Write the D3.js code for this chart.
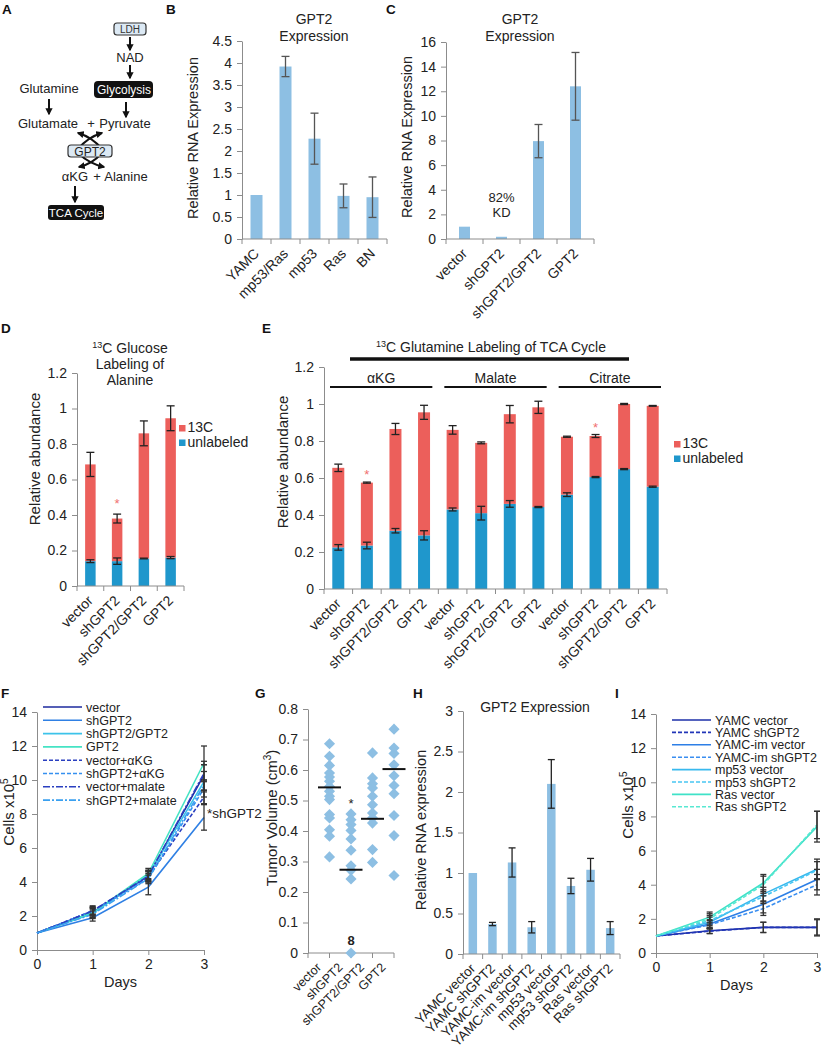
<!DOCTYPE html>
<html>
<head>
<meta charset="utf-8">
<script src="https://cdn.jsdelivr.net/npm/d3@7"></script>
<style>
  body { margin: 0; background: #fff; }
</style>
</head>
<body>
<div id="fig"></div>
<script>
// ---------- data ----------
const bCats = ['YAMC', 'mp53/Ras', 'mp53', 'Ras', 'BN'];
const bVals = [1, 3.92, 2.28, 0.98, 0.95];
const bErr = [0, 0.23, 0.58, 0.27, 0.46];
const bTicks = [0, 0.5, 1, 1.5, 2, 2.5, 3, 3.5, 4, 4.5];

const cCats = ['vector', 'shGPT2', 'shGPT2/GPT2', 'GPT2'];
const cVals = [1, 0.18, 7.95, 12.4];
const cErr = [0, 0, 1.35, 2.75];
const cTicks = [0, 2, 4, 6, 8, 10, 12, 14, 16];

const dCats = ['vector', 'shGPT2', 'shGPT2/GPT2', 'GPT2'];
const dUnlabeled = [0.14, 0.14, 0.155, 0.16];
const dC13 = [0.545, 0.24, 0.705, 0.785];
const dErrUnlabeled = [0.008, 0.018, 0.002, 0.006];
const dErrTotal = [0.068, 0.025, 0.07, 0.07];
const abundTicks = [0, 0.2, 0.4, 0.6, 0.8, 1, 1.2];

const eGroups = ['αKG', 'Malate', 'Citrate'];
const eCats = ['vector', 'shGPT2', 'shGPT2/GPT2', 'GPT2',
               'vector', 'shGPT2', 'shGPT2/GPT2', 'GPT2',
               'vector', 'shGPT2', 'shGPT2/GPT2', 'GPT2'];
const eUnlabeled = [0.225, 0.235, 0.315, 0.29, 0.43, 0.41, 0.46, 0.443, 0.51, 0.605, 0.648, 0.553];
const eC13 = [0.43, 0.34, 0.55, 0.665, 0.43, 0.38, 0.485, 0.539, 0.313, 0.222, 0.352, 0.437];
const eErrUnlabeled = [0.015, 0.018, 0.012, 0.025, 0.008, 0.037, 0.018, 0.003, 0.01, 0.003, 0.003, 0.003];
const eErrTotal = [0.02, 0.003, 0.03, 0.038, 0.023, 0.005, 0.047, 0.033, 0.003, 0.008, 0.003, 0.002];

const days = [0, 1, 2, 3];
const cellTicks = [0, 2, 4, 6, 8, 10, 12, 14];
const fNames = ['vector', 'shGPT2', 'shGPT2/GPT2', 'GPT2', 'vector+αKG', 'shGPT2+αKG', 'vector+malate', 'shGPT2+malate'];
const fValues = [
  [1, 2.2, 4.35, 10.3],
  [1, 1.9, 3.7, 7.8],
  [1, 2.15, 4.4, 9.9],
  [1, 2.2, 4.5, 11.0],
  [1, 2.3, 4.3, 9.0],
  [1, 2.3, 4.2, 9.5],
  [1, 2.3, 4.35, 10.4],
  [1, 2.1, 4.2, 9.7]
];
const fErr = [
  [0, 0.3, 0.3, 1.7],
  [0, 0.2, 0.45, 0.75],
  [0, 0.3, 0.3, 0.6],
  [0, 0.2, 0.3, 0.1],
  [0, 0.25, 0.3, 0.4],
  [0, 0.3, 0.3, 0.5],
  [0, 0.2, 0.3, 0.5],
  [0, 0.2, 0.2, 0.3]
];

const gCats = ['vector', 'shGPT2', 'shGPT2/GPT2', 'GPT2'];
const gVector = [0.686, 0.645, 0.615, 0.59, 0.577, 0.563, 0.546, 0.53, 0.514, 0.503, 0.454, 0.443, 0.404, 0.383, 0.315];
const gShGPT2 = [0.456, 0.437, 0.421, 0.402, 0.374, 0.337, 0.286, 0.271, 0.243, 0];
const gRescue = [0.656, 0.574, 0.555, 0.541, 0.514, 0.486, 0.459, 0.443, 0.426, 0.339, 0.297];
const gGPT2 = [0.734, 0.672, 0.654, 0.617, 0.581, 0.549, 0.522, 0.451, 0.385, 0.254];
const gMeans = [0.543, 0.273, 0.44, 0.603];
const gTicks = [0, 0.1, 0.2, 0.3, 0.4, 0.5, 0.6, 0.7, 0.8];

const hCats = ['YAMC vector', 'YAMC shGPT2', 'YAMC-im vector', 'YAMC-im shGPT2', 'mp53 vector', 'mp53 shGPT2', 'Ras vector', 'Ras shGPT2'];
const hVals = [1, 0.37, 1.13, 0.33, 2.1, 0.84, 1.04, 0.32];
const hErr = [0, 0.02, 0.18, 0.07, 0.3, 0.095, 0.14, 0.08];
const hTicks = [0, 0.5, 1, 1.5, 2, 2.5, 3];

const iNames = ['YAMC vector', 'YAMC shGPT2', 'YAMC-im vector', 'YAMC-im shGPT2', 'mp53 vector', 'mp53 shGPT2', 'Ras vector', 'Ras shGPT2'];
const iValues = [
  [1, 1.3, 1.5, 1.5],
  [1, 1.28, 1.5, 1.5],
  [1, 1.7, 2.85, 4.3],
  [1, 1.65, 2.6, 4.0],
  [1, 1.8, 3.45, 4.9],
  [1, 1.9, 3.3, 4.85],
  [1, 2.1, 4.1, 7.4],
  [1, 2.0, 4.0, 7.5]
];
const iErr = [
  [0, 0.15, 0.3, 0.5],
  [0, 0.15, 0.3, 0.45],
  [0, 0.25, 0.5, 0.6],
  [0, 0.25, 0.4, 0.6],
  [0, 0.3, 0.4, 0.6],
  [0, 0.3, 0.4, 0.5],
  [0, 0.3, 0.5, 0.9],
  [0, 0.3, 0.5, 0.8]
];

// ---------- styles ----------
const FONT = '"Liberation Sans", Arial, Helvetica, sans-serif';
const INK = '#222';
const AXIS = '#8c8c8c';
const BAR = '#8dbfe3';
const RED = '#ec5f5b';
const BLUE = '#1f97cc';
const STAR = '#f07070';

const fStyle = [
  { c: '#1c2a9e', dash: null },
  { c: '#2f80e4', dash: null },
  { c: '#3cc3ea', dash: null },
  { c: '#45e3c4', dash: null },
  { c: '#2a3fc0', dash: '4,2' },
  { c: '#3590f0', dash: '4,2' },
  { c: '#2a3fc0', dash: '7,2,2,2' },
  { c: '#3aa0f0', dash: '7,2,2,2' }
];
const iStyle = [
  { c: '#1c2fa8', dash: null },
  { c: '#2236b8', dash: '4,2' },
  { c: '#2d7fe6', dash: null },
  { c: '#3a8ef0', dash: '4,2' },
  { c: '#38b9ee', dash: null },
  { c: '#48c6f2', dash: '4,2' },
  { c: '#3fe2c8', dash: null },
  { c: '#58e8d2', dash: '4,2' }
];

const svg = d3.select('#fig').append('svg')
  .attr('width', 822).attr('height', 1050)
  .style('font-family', FONT)
  .style('background', '#fff');

svg.append('defs').append('marker')
  .attr('id', 'arr').attr('viewBox', '0 0 10 10')
  .attr('refX', 8).attr('refY', 5)
  .attr('markerWidth', 3.6).attr('markerHeight', 3.6)
  .attr('orient', 'auto')
  .append('path').attr('d', 'M0,0L10,5L0,10z').attr('fill', '#111');

function txt(g, x, y, s, o = {}) {
  return g.append('text').attr('x', x).attr('y', y).text(s)
    .attr('font-size', o.size || 14)
    .attr('fill', o.fill || INK)
    .attr('text-anchor', o.anchor || 'start')
    .attr('font-weight', o.weight || 'normal');
}

function leftAxis(g, y, ticks, x0, fs = 14) {
  const ax = g.append('g').attr('transform', `translate(${x0},0)`)
    .call(d3.axisLeft(y).tickValues(ticks).tickSize(5).tickSizeOuter(0).tickPadding(5).tickFormat(d3.format('')));
  ax.select('.domain').attr('stroke', AXIS);
  ax.selectAll('.tick line').attr('stroke', AXIS);
  ax.selectAll('text').attr('fill', INK).attr('font-size', fs).attr('font-family', FONT);
  return ax;
}

function catAxis(g, x, y0) {
  const r = x.range();
  g.append('line').attr('x1', r[0]).attr('x2', r[1]).attr('y1', y0).attr('y2', y0).attr('stroke', AXIS);
  const edges = x.domain().map(d => x(d)).concat([r[1]]);
  g.selectAll(null).data(edges).enter().append('line')
    .attr('x1', d => d).attr('x2', d => d)
    .attr('y1', y0).attr('y2', y0 + 5).attr('stroke', AXIS);
}

function rotLabels(g, x, labels, y0, fs = 14) {
  g.selectAll(null).data(labels).enter().append('text')
    .attr('transform', (d, i) => `translate(${x(i) + x.bandwidth() / 2},${y0 + 12}) rotate(-45)`)
    .attr('text-anchor', 'end').attr('dy', '0.35em')
    .attr('font-size', fs).attr('fill', INK)
    .text(d => d);
}

function yLabel(g, xb, cy, s, fs = 15) {
  return g.append('text')
    .attr('transform', `translate(${xb},${cy}) rotate(-90)`)
    .attr('text-anchor', 'middle').attr('font-size', fs).attr('fill', INK)
    .text(s);
}

function errBars(g, items, y, cap, color = '#222') {
  items.filter(d => d.e > 0).forEach(d => {
    const top = y(d.v + d.e), bot = y(d.v - d.e);
    g.append('line').attr('x1', d.cx).attr('x2', d.cx).attr('y1', top).attr('y2', bot)
      .attr('stroke', color).attr('stroke-width', 1.3);
    [top, bot].forEach(yy => g.append('line')
      .attr('x1', d.cx - cap / 2).attr('x2', d.cx + cap / 2).attr('y1', yy).attr('y2', yy)
      .attr('stroke', color).attr('stroke-width', 1.3));
  });
}

// ---------- panel labels ----------
[['A', 2, 14], ['B', 166, 14], ['C', 386, 14], ['D', 1, 333], ['E', 262, 333],
 ['F', 1, 698], ['G', 255, 698], ['H', 413, 698], ['I', 615, 698]]
  .forEach(([s, x, y]) => txt(svg, x, y, s, { size: 13.5, weight: 'bold', fill: '#111' }));

// ---------- A: pathway diagram ----------
(function () {
  const g = svg.append('g');
  const arrow = (x1, y1, x2, y2) => g.append('line')
    .attr('x1', x1).attr('y1', y1).attr('x2', x2).attr('y2', y2)
    .attr('stroke', '#111').attr('stroke-width', 2).attr('marker-end', 'url(#arr)');
  const curve = (d) => g.append('path').attr('d', d).attr('fill', 'none')
    .attr('stroke', '#111').attr('stroke-width', 2).attr('marker-end', 'url(#arr)');

  g.append('rect').attr('x', 114).attr('y', 23).attr('width', 32).attr('height', 12).attr('rx', 3)
    .attr('fill', '#dce9f4').attr('stroke', '#333').attr('stroke-width', 1.2);
  txt(g, 130, 33, 'LDH', { size: 10, anchor: 'middle', fill: '#333' });
  arrow(130, 37, 130, 50);
  txt(g, 130, 62, 'NAD', { size: 13, anchor: 'middle' });
  arrow(130, 65, 130, 78);
  g.append('rect').attr('x', 94).attr('y', 81).attr('width', 59).attr('height', 17).attr('rx', 4).attr('fill', '#111');
  txt(g, 124, 94, 'Glycolysis', { size: 12, anchor: 'middle', fill: '#fff' });
  txt(g, 49, 93, 'Glutamine', { size: 13, anchor: 'middle' });
  arrow(49, 99, 49, 114);
  arrow(126, 102, 126, 117);
  txt(g, 48, 128, 'Glutamate', { size: 13, anchor: 'middle' });
  txt(g, 91, 128, '+', { size: 13, anchor: 'middle' });
  txt(g, 125, 128, 'Pyruvate', { size: 13, anchor: 'middle' });

  curve('M102,149 Q92,137 78,133');
  curve('M78,149 Q88,137 102,133');
  curve('M101,154 Q92,164 79,167');
  curve('M79,154 Q90,164 104,167');
  g.append('rect').attr('x', 68).attr('y', 145).attr('width', 44).attr('height', 12).attr('rx', 3)
    .attr('fill', '#dce9f4').attr('stroke', '#333').attr('stroke-width', 1.2);
  txt(g, 90, 155.5, 'GPT2', { size: 12, anchor: 'middle' });

  txt(g, 75, 181, 'αKG', { size: 13, anchor: 'middle' });
  txt(g, 97, 181, '+', { size: 13, anchor: 'middle' });
  txt(g, 126, 181, 'Alanine', { size: 13, anchor: 'middle' });
  arrow(75, 186, 75, 202);
  g.append('rect').attr('x', 48).attr('y', 205).attr('width', 56).attr('height', 15).attr('rx', 3).attr('fill', '#111');
  txt(g, 76, 217, 'TCA Cycle', { size: 11.5, anchor: 'middle', fill: '#fff' });
})();

// ---------- simple bar panels (B, C, H) ----------
function barPanel(o) {
  const g = svg.append('g');
  const x = d3.scaleBand().domain(d3.range(o.cats.length)).range([o.x0, o.x1]);
  const y = d3.scaleLinear().domain([0, o.ymax]).range([o.y0, o.yTop]);
  g.selectAll(null).data(o.vals).enter().append('rect')
    .attr('x', (d, i) => x(i) + x.bandwidth() / 2 - o.bw / 2).attr('width', o.bw)
    .attr('y', d => y(d)).attr('height', d => o.y0 - y(d)).attr('fill', BAR);
  leftAxis(g, y, o.ticks, o.x0);
  catAxis(g, x, o.y0);
  errBars(g, o.vals.map((v, i) => ({ cx: x(i) + x.bandwidth() / 2, v, e: o.err[i] })), y, o.cap, o.errColor);
  rotLabels(g, x, o.cats, o.y0, o.fs || 14);
  return { g, x, y };
}

const B = barPanel({ cats: bCats, vals: bVals, err: bErr, ticks: bTicks, ymax: 4.5,
  x0: 242, x1: 387, y0: 239, yTop: 41, bw: 12, cap: 8, errColor: '#555' });
txt(B.g, 314, 24, 'GPT2', { anchor: 'middle' });
txt(B.g, 314, 41, 'Expression', { anchor: 'middle' });
yLabel(B.g, 198, 138, 'Relative RNA Expression', 14.5);

const C = barPanel({ cats: cCats, vals: cVals, err: cErr, ticks: cTicks, ymax: 16,
  x0: 446, x1: 594, y0: 239, yTop: 42, bw: 11, cap: 8, errColor: '#555' });
txt(C.g, 520, 24, 'GPT2', { anchor: 'middle' });
txt(C.g, 520, 41, 'Expression', { anchor: 'middle' });
yLabel(C.g, 412, 137, 'Relative RNA Expression', 14.5);
txt(C.g, C.x(1) + C.x.bandwidth() / 2, 202, '82%', { size: 13, anchor: 'middle' });
txt(C.g, C.x(1) + C.x.bandwidth() / 2, 217, 'KD', { size: 13, anchor: 'middle' });

const H = barPanel({ cats: hCats, vals: hVals, err: hErr, ticks: hTicks, ymax: 3,
  x0: 463, x1: 620, y0: 954, yTop: 711, bw: 8.5, cap: 7, fs: 13.5 });
txt(H.g, 535, 712, 'GPT2 Expression', { anchor: 'middle' });
yLabel(H.g, 426, 830, 'Relative RNA expression', 14.5);

// ---------- stacked panels (D, E) ----------
function stackPanel(o) {
  const g = svg.append('g');
  const n = o.cats.length;
  const x = d3.scaleBand().domain(d3.range(n)).range([o.x0, o.x1]);
  const y = d3.scaleLinear().domain([0, 1.2]).range([o.y0, o.yTop]);
  const cx = i => x(i) + x.bandwidth() / 2;
  g.selectAll(null).data(o.unl).enter().append('rect')
    .attr('x', (d, i) => cx(i) - o.bw / 2).attr('width', o.bw)
    .attr('y', d => y(d)).attr('height', d => o.y0 - y(d)).attr('fill', BLUE);
  g.selectAll(null).data(o.c13).enter().append('rect')
    .attr('x', (d, i) => cx(i) - o.bw / 2).attr('width', o.bw)
    .attr('y', (d, i) => y(d + o.unl[i])).attr('height', d => o.y0 - y(d)).attr('fill', RED);
  leftAxis(g, y, abundTicks, o.x0);
  catAxis(g, x, o.y0);
  errBars(g, o.unl.map((v, i) => ({ cx: cx(i), v, e: o.errUnl[i] })), y, 8);
  errBars(g, o.c13.map((v, i) => ({ cx: cx(i), v: v + o.unl[i], e: o.errTot[i] })), y, 8);
  rotLabels(g, x, o.cats, o.y0, 14);
  // legend
  [[RED, '13C'], [BLUE, 'unlabeled']].forEach(([c, s], k) => {
    g.append('rect').attr('x', o.lx).attr('y', o.ly + k * 14.5).attr('width', 6.5).attr('height', 6.5).attr('fill', c);
    txt(g, o.lx + 8.5, o.ly + 7 + k * 14.5, s, { size: 14 });
  });
  return { g, x, y, cx };
}

const D = stackPanel({ cats: dCats, unl: dUnlabeled, c13: dC13, errUnl: dErrUnlabeled, errTot: dErrTotal,
  x0: 77, x1: 184, y0: 586, yTop: 373, bw: 10.5, lx: 179, ly: 425 });
const dTitle = D.g.append('text').attr('x', 130).attr('y', 353).attr('text-anchor', 'middle')
  .attr('font-size', 14).attr('fill', INK);
dTitle.append('tspan').attr('font-size', 9).attr('dy', -5).text('13');
dTitle.append('tspan').attr('dy', 5).text('C Glucose');
txt(D.g, 130, 369, 'Labeling of', { anchor: 'middle' });
txt(D.g, 130, 385, 'Alanine', { anchor: 'middle' });
yLabel(D.g, 40, 459, 'Relative abundance', 15);
txt(D.g, D.cx(1), D.y(0.44), '*', { size: 13, anchor: 'middle', fill: STAR });

const E = stackPanel({ cats: eCats, unl: eUnlabeled, c13: eC13, errUnl: eErrUnlabeled, errTot: eErrTotal,
  x0: 324, x1: 667, y0: 589, yTop: 367, bw: 12, lx: 674, ly: 441 });
yLabel(E.g, 288, 462, 'Relative abundance', 15);
txt(E.g, E.cx(1), E.y(0.595), '*', { size: 13, anchor: 'middle', fill: STAR });
txt(E.g, E.cx(9), E.y(0.85), '*', { size: 13, anchor: 'middle', fill: STAR });
const eTitle = E.g.append('text').attr('x', 491).attr('y', 352).attr('text-anchor', 'middle')
  .attr('font-size', 14).attr('fill', INK);
eTitle.append('tspan').attr('font-size', 9).attr('dy', -5).text('13');
eTitle.append('tspan').attr('dy', 5).text('C Glutamine Labeling of TCA Cycle');
E.g.append('line').attr('x1', 350).attr('x2', 629).attr('y1', 359).attr('y2', 359)
  .attr('stroke', '#111').attr('stroke-width', 3.5);
eGroups.forEach((s, k) => {
  const a = E.x(k * 4) + 6, b = E.x(k * 4 + 3) + E.x.bandwidth() - 6;
  E.g.append('line').attr('x1', a).attr('x2', b).attr('y1', 387).attr('y2', 387)
    .attr('stroke', '#111').attr('stroke-width', 2);
  txt(E.g, (a + b) / 2, 383, s, { anchor: 'middle' });
});

// ---------- line panels (F, I) ----------
function linePanel(o) {
  const g = svg.append('g');
  const x = d3.scaleLinear().domain([0, 3]).range([o.x0, o.x1]);
  const y = d3.scaleLinear().domain([0, 14]).range([o.y0, o.yTop]);
  leftAxis(g, y, cellTicks, o.x0);
  const ax = g.append('g').attr('transform', `translate(0,${o.y0})`)
    .call(d3.axisBottom(x).tickValues(days).tickSize(5).tickSizeOuter(0).tickPadding(4).tickFormat(d3.format('d')));
  ax.select('.domain').attr('stroke', AXIS);
  ax.selectAll('.tick line').attr('stroke', AXIS);
  ax.selectAll('text').attr('fill', INK).attr('font-size', 14).attr('font-family', FONT);
  const line = d3.line().x((d, i) => x(days[i])).y(d => y(d));
  o.values.forEach((vals, s) => {
    g.append('path').attr('d', line(vals)).attr('fill', 'none')
      .attr('stroke', o.styles[s].c).attr('stroke-width', 1.6)
      .attr('stroke-dasharray', o.styles[s].dash);
  });
  o.values.forEach((vals, s) => {
    errBars(g, vals.map((v, i) => ({ cx: x(days[i]), v, e: o.err[s][i] })), y, 6, '#333');
  });
  o.names.forEach((nm, k) => {
    const ly = o.ly + k * o.lstep;
    g.append('line').attr('x1', o.lx).attr('x2', o.lx + 39).attr('y1', ly).attr('y2', ly)
      .attr('stroke', o.styles[k].c).attr('stroke-width', 1.6)
      .attr('stroke-dasharray', o.styles[k].dash);
    txt(g, o.lx + 43, ly + 4.5, nm, { size: 12.5 });
  });
  txt(g, (o.x0 + o.x1) / 2, o.daysY, 'Days', { size: 14.5, anchor: 'middle' });
  const yl = g.append('text').attr('transform', `translate(${o.ylx},${o.yly}) rotate(-90)`)
    .attr('text-anchor', 'middle').attr('font-size', 15).attr('fill', INK);
  yl.append('tspan').text('Cells x10');
  yl.append('tspan').attr('font-size', 10).attr('dy', -6).text('5');
  return { g, x, y };
}

const F = linePanel({ values: fValues, err: fErr, styles: fStyle, names: fNames,
  x0: 37, x1: 204, y0: 950, yTop: 712, lx: 43, ly: 707, lstep: 13.3, daysY: 987, ylx: 14, yly: 812 });
txt(F.g, 207, 818, '*shGPT2', { size: 13.5 });

const I = linePanel({ values: iValues, err: iErr, styles: iStyle, names: iNames,
  x0: 656, x1: 817, y0: 953, yTop: 714, lx: 672, ly: 720, lstep: 12.4, daysY: 990, ylx: 633, yly: 805 });

// ---------- G: tumor volume scatter ----------
(function () {
  const g = svg.append('g');
  const x = d3.scaleBand().domain(d3.range(gCats.length)).range([308, 394]);
  const y = d3.scaleLinear().domain([0, 0.8]).range([953, 709]);
  const px = i => x(i) + x.step();
  leftAxis(g, y, gTicks, 308);
  catAxis(g, x, 953);
  const pts = [gVector, gShGPT2, gRescue, gGPT2].flatMap((arr, i) => arr.map(v => ({ i, v })));
  g.selectAll(null).data(pts).enter().append('path')
    .attr('d', d3.symbol(d3.symbolSquare, 62))
    .attr('transform', d => `translate(${px(d.i)},${y(d.v)}) rotate(45)`)
    .attr('fill', BAR);
  g.selectAll(null).data(gMeans).enter().append('line')
    .attr('x1', (d, i) => px(i) - 11.5).attr('x2', (d, i) => px(i) + 11.5)
    .attr('y1', d => y(d)).attr('y2', d => y(d))
    .attr('stroke', '#111').attr('stroke-width', 2);
  txt(g, px(1), y(0.475), '*', { size: 13, anchor: 'middle' });
  txt(g, px(1), y(0.025), '8', { size: 13, anchor: 'middle', weight: 'bold' });
  rotLabels(g, x, gCats, 953, 12.5);
  const yl = g.append('text').attr('transform', 'translate(277,818) rotate(-90)')
    .attr('text-anchor', 'middle').attr('font-size', 15).attr('fill', INK);
  yl.append('tspan').text('Tumor Volume (cm');
  yl.append('tspan').attr('font-size', 10).attr('dy', -6).text('3');
  yl.append('tspan').attr('dy', 6).text(')');
})();
</script>
</body>
</html>
